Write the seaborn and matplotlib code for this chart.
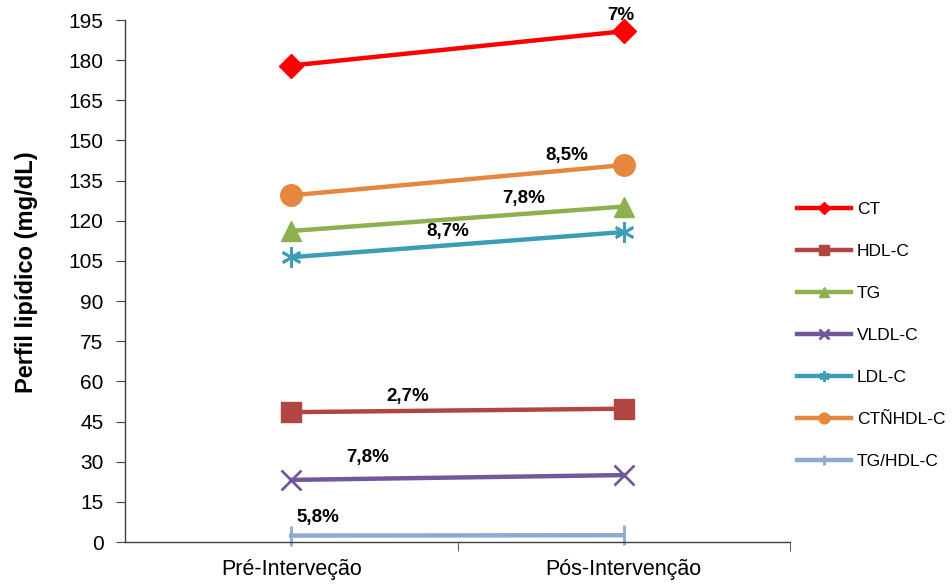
import matplotlib
matplotlib.use("Agg")
import matplotlib.pyplot as plt
import seaborn as sns
import pandas as pd

# Lipid profile before and after the intervention (mg/dL)
periods = ["Pré-Interveção", "Pós-Intervenção"]
series_names = ["CT", "HDL-C", "TG", "VLDL-C", "LDL-C", "CTÑHDL-C", "TG/HDL-C"]
ct = [178.0, 190.8]
hdl_c = [48.5, 49.8]
tg = [116.2, 125.3]
vldl_c = [23.2, 25.0]
ldl_c = [106.4, 115.8]
ct_no_hdl = [129.5, 140.8]
tg_hdl = [2.4, 2.54]
pct_labels = ["7%", "2,7%", "7,8%", "7,8%", "8,7%", "8,5%", "5,8%"]

values = [ct, hdl_c, tg, vldl_c, ldl_c, ct_no_hdl, tg_hdl]
df = pd.DataFrame(
    [(name, p, v) for name, vals in zip(series_names, values) for p, v in zip(periods, vals)],
    columns=["serie", "periodo", "valor"],
)

colors = ["#FF0000", "#B04542", "#8FB04F", "#72589A", "#3D9DB5", "#E5873C", "#8EA9D6"]
markers = ["D", "s", "^", "x", (6, 2, 0), "o", "|"]
msizes = [12, 14.5, 15, 14.5, 14.5, 15.5, 15]
medge = [1, 1, 1, 2, 2, 1, 2]

plt.rcParams["font.family"] = ["Liberation Sans", "DejaVu Sans"]
fig = plt.figure(figsize=(9.53, 5.84), dpi=100)
ax = fig.add_axes([125 / 953, 42 / 584, 665 / 953, 522 / 584])

for name, c, m, ms, mew in zip(series_names, colors, markers, msizes, medge):
    sns.lineplot(
        data=df[df["serie"] == name], x="periodo", y="valor", ax=ax,
        color=c, marker=m, markersize=ms, markeredgewidth=mew,
        markeredgecolor=c, linewidth=3.2, label=name, clip_on=False,
    )

# percentage labels: (series index, x position, y offset)
label_place = [(0, 0.99, 6.0), (1, 0.35, 5.4), (2, 0.70, 5.6), (3, 0.23, 7.8),
               (4, 0.47, 5.2), (5, 0.83, 5.5), (6, 0.08, 6.8)]
for (idx, xp, dy), txt in zip(label_place, pct_labels):
    y0, y1 = values[idx]
    yv = y0 + (y1 - y0) * xp + dy
    ax.text(xp, yv, txt, ha="center", va="center", fontsize=13.5,
            fontweight="bold", color="black", clip_on=False)

ax.set_xlim(-0.5, 1.5)
ax.set_ylim(0, 195)
ax.set_yticks(range(0, 196, 15))
ax.tick_params(axis="y", labelsize=15, length=6.5, direction="out", color="#404040", pad=9)
ax.set_xticks([0, 1])
ax.set_xticklabels(periods)
ax.tick_params(axis="x", which="major", length=0, labelsize=15.5, pad=12)
ax.set_xticks([0.5, 1.5], minor=True)
ax.tick_params(axis="x", which="minor", length=6.5, direction="out", color="#404040")
ax.set_xlabel("")
ax.set_ylabel("Perfil lipídico (mg/dL)", fontsize=17, fontweight="bold")
ax.yaxis.set_label_coords(-0.131, 0.517)
for s in ["top", "right"]:
    ax.spines[s].set_visible(False)
for s in ["left", "bottom"]:
    ax.spines[s].set_color("#404040")
    ax.spines[s].set_linewidth(1)
ax.set_facecolor("white")

leg = ax.legend(loc="center left", bbox_to_anchor=(1.0, 0.396), frameon=False,
                fontsize=12.5, handlelength=3.1, labelspacing=1.55, markerscale=0.5,
                handletextpad=0.35, borderaxespad=0.0)

fig.savefig("out.png", dpi=100, facecolor="white")
